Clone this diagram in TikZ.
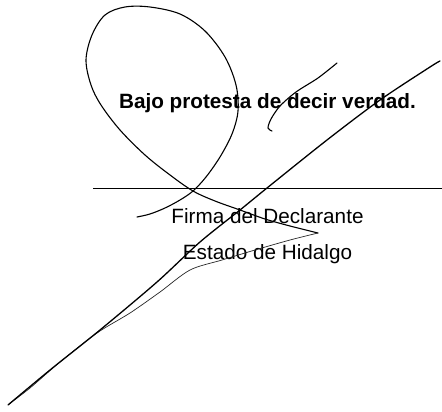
\documentclass[tikz,border=0pt]{standalone}
\usepackage{fontspec}
\setmainfont{Liberation Sans}
\tikzset{
  pen/.style={line width=1.1pt, line cap=round, line join=round, black},
  thinpen/.style={line width=0.7pt, line cap=round, line join=round, black!85},
  rule/.style={line width=1pt, black},
  label/.style={anchor=base, inner sep=0pt, font=\fontsize{20.7}{24}\selectfont},
  boldlabel/.style={label, font=\fontsize{20.7}{24}\selectfont\bfseries}
}
\begin{document}
\begin{tikzpicture}[x=1pt, y=-1pt]
\useasboundingbox (0,0) rectangle (442,412);
\fill[white] (0,0) rectangle (442,412);

% texts
\node[boldlabel] (bajo) at (267.5,108) {Bajo protesta de decir verdad.};
\node[label] (firma) at (267.5,223) {Firma del Declarante};
\node[label] (estado) at (267.5,259) {Estado de Hidalgo};

% signature rule
\coordinate (ruleL) at (93,188);
\coordinate (ruleR) at (442,188);
\draw[rule] (ruleL) -- (ruleR);

% loop stroke
\draw[pen] plot[smooth, tension=0.55] coordinates {
 (137,217) (150,214) (165,208) (180,200) (193,191) (206,177) (220,157)
 (232,134) (238,111) (236,85) (225,57) (205,31) (180,14) (150,7) (125,7)
 (105,15) (92,35) (86,60) (91,85) (101,105) (120,130) (145,155) (170,175)
 (193,191) (215,201) (240,210) (265,219) (290,226) (318,233)};
% return stroke from spike
\draw[thinpen] plot[smooth, tension=0.5] coordinates {
 (318,233) (290,240) (255,250) (222,260) (190,270) (160,292) (130,313)
 (97,333) (60,362) (30,388) (9,404)};

% long diagonal
\draw[pen, line width=1.3pt] plot[smooth, tension=0.5] coordinates {
 (440,61) (430,67) (380,100) (327,140) (267,188) (240,210) (200,242)
 (157,282) (100,330) (50,370) (8,405)};

% small stroke
\draw[pen] plot[smooth, tension=0.5] coordinates {
 (337,63) (318,78) (296,92) (280,106) (271,119) (268,128) (272,131)};
\end{tikzpicture}
\end{document}
